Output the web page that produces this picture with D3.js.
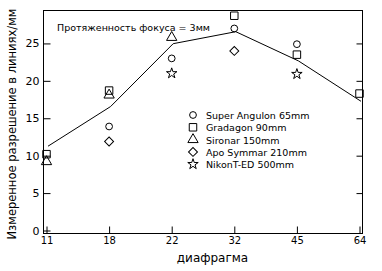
<!DOCTYPE html>
<html>
<head>
<meta charset="utf-8">
<script src="https://cdn.jsdelivr.net/npm/d3@7"></script>
<style>
	body { margin: 0; background: #fff; }
	svg { display: block; font-family: "DejaVu Sans", sans-serif; }
</style>
</head>
<body>
<div id="chart"></div>
<script>
	// диафрагма (x categories)
	var apertures = ['11', '18', '22', '32', '45', '64'];
	var yTicks = [0, 5, 10, 15, 20, 25];

	// trend line
	var lineValues = [11.2, 16.5, 24.9, 26.5, 22.6, 17.2];

	// series, null = no point
	var superAngulon = [null, 13.9, 23.0, 27.0, 24.9, null];
	var gradagon = [10.2, 18.7, null, 28.7, 23.5, 18.3];
	var sironar = [9.2, 18.1, 25.8, null, null, null];
	var apoSymmar = [null, 11.9, null, 24.0, null, null];
	var nikon = [null, null, 21.0, null, 20.9, null];

	var seriesNames = ['Super Angulon 65mm', 'Gradagon 90mm', 'Sironar 150mm', 'Apo Symmar 210mm', 'NikonT-ED 500mm'];
	var seriesValues = [superAngulon, gradagon, sironar, apoSymmar, nikon];
	var seriesSymbols = [d3.symbolCircle, d3.symbolSquare, d3.symbolTriangle, d3.symbolSquare, d3.symbolStar];
	var seriesSizes = [36, 56, 46, 40, 34];
	var seriesRotate = [0, 0, 0, 45, 0];

	var width = 382, height = 271;
	var plotLeft = 43, plotRight = 362, plotTop = 10, plotBottom = 233;

	var svg = d3.select('#chart').append('svg')
		.attr('width', width)
		.attr('height', height);

	var x = d3.scalePoint().domain(apertures).range([46, 359]);
	var y = d3.scaleLinear().domain([-0.4, 29.4]).range([plotBottom, plotTop]);

	// frame
	svg.append('rect')
		.attr('x', plotLeft + 0.5).attr('y', plotTop + 0.5)
		.attr('width', plotRight - plotLeft).attr('height', plotBottom - plotTop)
		.attr('fill', 'none').attr('stroke', '#000');

	var yAxis = svg.append('g')
		.attr('transform', 'translate(' + (plotLeft + 0.5) + ',0.5)')
		.call(d3.axisLeft(y).tickValues(yTicks).tickSize(-7).tickPadding(4));
	var yAxisR = svg.append('g')
		.attr('transform', 'translate(' + (plotRight + 0.5) + ',0.5)')
		.call(d3.axisRight(y).tickValues(yTicks.slice(1)).tickSize(-6).tickFormat(''));
	var xAxis = svg.append('g')
		.attr('transform', 'translate(0.5,' + (plotBottom + 0.5) + ')')
		.call(d3.axisBottom(x).tickSize(-7).tickPadding(3));

	[yAxis, yAxisR, xAxis].forEach(function(g) {
		g.select('.domain').remove();
		g.selectAll('line').attr('stroke', '#000');
		g.selectAll('text').attr('fill', '#000').style('font-size', '11px')
			.style('font-family', '"DejaVu Sans", sans-serif');
	});
	xAxis.selectAll('text').style('font-size', '10px');

	// axis titles
	svg.append('text')
		.attr('x', (plotLeft + plotRight) / 2 + 10).attr('y', 262)
		.attr('text-anchor', 'middle')
		.style('font-size', '12px')
		.text('диафрагма');

	svg.append('text')
		.attr('transform', 'translate(16,124) rotate(-90)')
		.attr('text-anchor', 'middle')
		.style('font-size', '11.5px')
		.text('Измеренное разрешение в линиях/мм');

	svg.append('text')
		.attr('x', 57).attr('y', 31)
		.style('font-size', '9.5px')
		.text('Протяженность фокуса = 3мм');

	// trend line
	var line = d3.line()
		.x(function(d, i) { return x(apertures[i]) + 2; })
		.y(function(d) { return y(d); });

	svg.append('path')
		.datum(lineValues)
		.attr('d', line)
		.attr('fill', 'none')
		.attr('stroke', '#000')
		.attr('stroke-width', 1);

	// markers
	seriesValues.forEach(function(vals, s) {
		var sym = d3.symbol().type(seriesSymbols[s]).size(seriesSizes[s]);
		svg.append('g')
			.selectAll('path')
			.data(vals.map(function(v, i) { return {a: apertures[i], v: v}; })
				.filter(function(d) { return d.v !== null; }))
			.enter().append('path')
			.attr('d', sym)
			.attr('transform', function(d) {
				return 'translate(' + (x(d.a) + 0.5) + ',' + (y(d.v) + 0.5) + ') rotate(' + seriesRotate[s] + ')';
			})
			.attr('fill', 'none')
			.attr('stroke', '#000')
			.attr('stroke-width', 1);
	});

	// legend
	var legend = svg.append('g').attr('transform', 'translate(193,115)');
	seriesNames.forEach(function(name, s) {
		var row = legend.append('g').attr('transform', 'translate(0,' + (s * 12.3) + ')');
		row.append('path')
			.attr('d', d3.symbol().type(seriesSymbols[s]).size(seriesSizes[s]))
			.attr('transform', 'rotate(' + seriesRotate[s] + ')')
			.attr('fill', 'none')
			.attr('stroke', '#000');
		row.append('text')
			.attr('x', 13).attr('y', 4)
			.style('font-size', '9.5px')
			.text(name);
	});
</script>
</body>
</html>
